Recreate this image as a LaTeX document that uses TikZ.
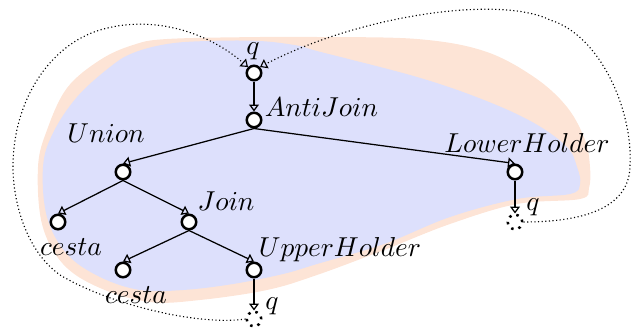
\documentclass[tikz,border=0pt]{standalone}
\usetikzlibrary{arrows.meta}
\definecolor{peach}{RGB}{253,228,214}
\definecolor{lavender}{RGB}{221,224,252}
\begin{document}
\begin{tikzpicture}[x=0.4pt,y=-0.4pt,
  op/.style={circle,draw,line width=1pt,minimum size=5.8pt,inner sep=0pt,fill=white},
  hole/.style={circle,draw,dotted,line width=1pt,minimum size=5.8pt,inner sep=0pt},
  lbl/.style={inner sep=0pt,font=\fontsize{10.6}{12}\selectfont},
  flow/.style={line width=0.5pt,-{Triangle[open,length=2.8pt,width=4pt]}},
  loopback/.style={densely dotted,line width=0.45pt,-{Triangle[open,length=2.8pt,width=4pt]}}]
\useasboundingbox (0,0) rectangle (634,334);

% outer and inner regions
\fill[peach] plot[smooth cycle, tension=0.6] coordinates {
  (167,39) (260,37) (317,37) (417,39) (484,51) (534,77) (567,107) (585,140)
  (590,167) (589,188) (580,199) (517,204) (450,224) (384,250) (317,275)
  (267,290) (200,300) (150,302) (100,288) (63,264) (42,224) (38,167)
  (47,130) (67,88) (100,60) (133,45)};
\fill[lavender] plot[smooth cycle, tension=0.6] coordinates {
  (167,44) (207,41) (260,41) (300,46) (317,51) (417,77) (484,100) (534,123)
  (567,147) (577,167) (580,184) (570,194) (517,199) (450,217) (384,244)
  (317,264) (283,274) (233,284) (183,290) (140,290) (100,277) (67,254)
  (47,217) (43,167) (53,133) (77,97) (110,67) (133,53)};

% operator nodes
\node[op] (top) at (254,73) {};
\node[op] (aj)  at (254,120) {};
\node[op] (un)  at (123,172) {};
\node[op] (lh)  at (515,172) {};
\node[op] (c1)  at (58,222) {};
\node[op] (jn)  at (189,222) {};
\node[op] (c2)  at (123,270) {};
\node[op] (uh)  at (254,270) {};
\node[hole] (uq) at (254,319) {};
\node[hole] (lq) at (515,222) {};

% labels
\node[lbl] (ltop) at (253,51.5) {$q$};
\node[lbl] (laj)  at (321.5,107.5) {$AntiJoin$};
\node[lbl] (lun)  at (106,133.5) {$Union$};
\node[lbl] (llh)  at (527,143) {$LowerHolder$};
\node[lbl] (ljn)  at (226,201) {$Join$};
\node[lbl] (lc1)  at (71,247) {$cesta$};
\node[lbl] (lc2)  at (136,295) {$cesta$};
\node[lbl] (luh)  at (340,250) {$UpperHolder$};
\node[lbl] (luq)  at (272,306.5) {$q$};
\node[lbl] (llq)  at (533,207) {$q$};

% tree edges
\draw[flow] (top.south) -- (aj.north);
\draw[flow] (aj.south) -- (un.north);
\draw[flow] (aj.south) -- (lh.north);
\draw[flow] (un.south) -- (c1.north);
\draw[flow] (un.south) -- (jn.north);
\draw[flow] (jn.south) -- (c2.north);
\draw[flow] (jn.south) -- (uh.north);
\draw[flow] (uh.south) -- (uq.north);
\draw[flow] (lh.south) -- (lq.north);

% feedback loops into the top node
\draw[loopback] (uq.west)
  .. controls (200,326) and (110,305) .. (60,275)
  .. controls (25,250) and (13,200) .. (13,167)
  .. controls (13,100) and (50,45) .. (100,30)
  .. controls (150,15) and (205,30) .. (top.135);
\draw[loopback] (lq.east)
  .. controls (590,222) and (630,205) .. (630,165)
  .. controls (633,110) and (600,35) .. (550,20)
  .. controls (500,-5) and (360,15) .. (top.45);
\end{tikzpicture}
\end{document}
